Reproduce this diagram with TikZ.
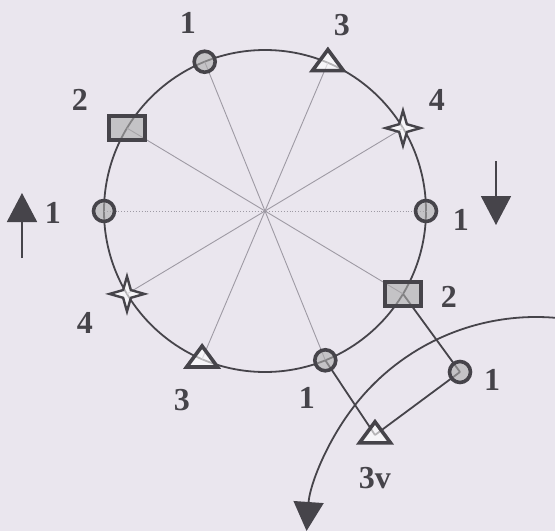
\documentclass[tikz,border=0pt]{standalone}
\usepackage{fontspec}
\setmainfont{Liberation Serif}
\usetikzlibrary{shapes.geometric,arrows.meta}
\definecolor{paper}{RGB}{234,230,238}
\definecolor{ink}{RGB}{70,68,74}
\definecolor{spk}{RGB}{158,154,164}

\begin{document}
\begin{tikzpicture}[x=1pt, y=1pt,
    mbase/.style={draw=ink, line width=3.6pt, inner sep=0pt, fill opacity=0.6},
    mcirc/.style={mbase, circle, minimum size=21pt, fill=gray!65},
    msq/.style={mbase, rectangle, minimum width=36pt, minimum height=24pt, fill=gray!65},
    mtri/.style={mbase, isosceles triangle, shape border rotate=90, isosceles triangle stretches, minimum width=31pt, minimum height=21pt, fill=white},
    mstar/.style={draw=ink, line width=2.4pt, inner sep=0pt, star, star points=4, star point ratio=3.2, minimum size=35pt, fill=white, fill opacity=0.6},
    lbl/.style={text=ink, font=\fontsize{32}{32}\selectfont\bfseries, inner sep=0pt},
    spoke/.style={draw=spk, line width=0.9pt},
    link/.style={draw=ink, line width=1.8pt},
    bigarrow/.style={draw=ink, line width=1.8pt, -{Triangle[length=29pt, width=30pt]}}
]
    % Paper
    \useasboundingbox (-265,-320) rectangle (290,211);
    \fill[paper] (-265,-320) rectangle (290,211);

    % Points
    \coordinate (O) at (0,0);
    \foreach \n/\a in {c1r/0, st4r/31, tr3t/67, c1t/112, sq2l/149,
                       c1l/180, st4l/211, tr3b/247, c1b/292, sq2r/329}
        \coordinate (\n) at (\a:161);
    \coordinate (c1o) at (195,-161);
    \coordinate (tr3v) at (110,-224);

    % Circle and spokes
    \draw[ink, line width=1.8pt] (O) circle (161);
    \draw[spoke] (c1t) -- (c1b);
    \draw[spoke] (tr3t) -- (tr3b);
    \draw[spoke] (st4r) -- (st4l);
    \draw[spoke] (sq2l) -- (sq2r);
    \draw[spk, line width=0.9pt, dotted] (c1l) -- (c1r);

    % Links to the outside
    \draw[link] (c1b) -- (tr3v);
    \draw[link] (sq2r) -- (c1o);
    \draw[link] (c1o) -- (tr3v);

    % Markers
    \node[mcirc] (n1r) at (c1r) {};
    \node[mcirc] (n1t) at (c1t) {};
    \node[mcirc] (n1l) at (c1l) {};
    \node[mcirc] (n1b) at (c1b) {};
    \node[mcirc] (n1o) at (c1o) {};
    \node[msq] (n2l) at (sq2l) {};
    \node[msq] (n2r) at (sq2r) {};
    \node[mtri] (n3t) at (tr3t) {};
    \node[mtri] (n3b) at (tr3b) {};
    \node[mtri] (n3v) at (tr3v) {};
    \node[mstar] (n4r) at (st4r) {};
    \node[mstar] (n4l) at (st4l) {};

    % Labels
    \node[lbl] (l1t) at (-77,188) {1};
    \node[lbl] (l3t) at (77,186) {3};
    \node[lbl] (l2l) at (-185,111) {2};
    \node[lbl] (l4r) at (172,111) {4};
    \node[lbl] (l1r) at (196,-9) {1};
    \node[lbl] (l1l) at (-212,-2) {1};
    \node[lbl] (l2r) at (184,-86) {2};
    \node[lbl] (l4l) at (-180,-112) {4};
    \node[lbl] (l3b) at (-83,-189) {3};
    \node[lbl] (l1b) at (42,-187) {1};
    \node[lbl] (l1o) at (227,-169) {1};
    \node[lbl] (l3v) at (110,-267) {3v};

    % Arrows
    \coordinate (ul0) at (-243,-47);
    \coordinate (ul1) at (-243,18);
    \coordinate (ur0) at (231,50);
    \coordinate (ur1) at (231,-14);
    \coordinate (arcC) at (271,-336);
    \draw[bigarrow] (ul0) -- (ul1);
    \draw[bigarrow] (ur0) -- (ur1);
    \draw[bigarrow] ([shift={(82:230)}]arcC) arc[start angle=82, end angle=176, radius=230];
\end{tikzpicture}
\end{document}
